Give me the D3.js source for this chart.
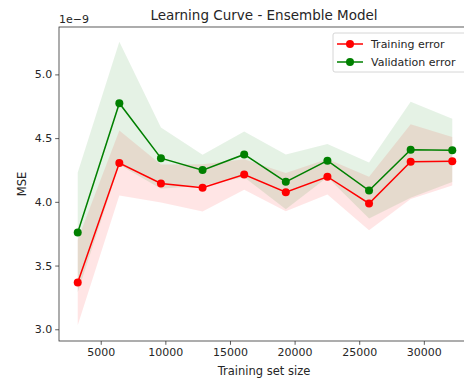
<!DOCTYPE html>
<html>
<head>
<meta charset="utf-8">
<script src="https://cdn.jsdelivr.net/npm/d3@7"></script>
<style>
  body { margin: 0; background: #fff; }
  svg { display: block; font-family: "DejaVu Sans", sans-serif; }
  .tick text { fill: #262626; }
</style>
</head>
<body>
<svg></svg>
<script>
// values in units of 1e-9
const trainSizes = [3220, 6440, 9660, 12880, 16100, 19320, 22540, 25760, 28980, 32200];
const trainMean = [3.367, 4.304, 4.144, 4.110, 4.215, 4.076, 4.197, 3.987, 4.315, 4.318];
const trainStd  = [0.335, 0.255, 0.150, 0.185, 0.120, 0.150, 0.140, 0.210, 0.293, 0.190];
const valMean   = [3.760, 4.774, 4.343, 4.249, 4.372, 4.157, 4.323, 4.089, 4.409, 4.404];
const valStd    = [0.470, 0.483, 0.240, 0.120, 0.180, 0.215, 0.130, 0.220, 0.377, 0.248];
const xTicks = [5000, 10000, 15000, 20000, 25000, 30000];
const yTicks = [3.0, 3.5, 4.0, 4.5, 5.0];

const width = 464;
const height = 380;
const margin = {top: 27, right: -7, bottom: 39, left: 59};

const svg = d3.select('svg')
    .attr('width', width)
    .attr('height', height);

const x = d3.scaleLinear()
    .domain([1771, 33649])
    .range([margin.left, width - margin.right]);
const y = d3.scaleLinear()
    .domain([2.908, 5.372])
    .range([height - margin.bottom, margin.top]);

const rows = trainSizes.map((s, i) => ({
    s,
    tm: trainMean[i], ts: trainStd[i],
    vm: valMean[i], vs: valStd[i]
}));

// bands
const band = (m, sd) => d3.area()
    .x(d => x(d.s))
    .y0(d => y(d[m] - d[sd]))
    .y1(d => y(d[m] + d[sd]));

svg.append('path')
    .datum(rows)
    .attr('d', band('tm', 'ts'))
    .attr('fill', 'red')
    .attr('fill-opacity', 0.1);
svg.append('path')
    .datum(rows)
    .attr('d', band('vm', 'vs'))
    .attr('fill', 'green')
    .attr('fill-opacity', 0.1);

// lines + markers
const series = [
    {key: 'tm', color: 'red', label: 'Training error'},
    {key: 'vm', color: 'green', label: 'Validation error'}
];
series.forEach(s => {
    svg.append('path')
        .datum(rows)
        .attr('d', d3.line().x(d => x(d.s)).y(d => y(d[s.key])))
        .attr('fill', 'none')
        .attr('stroke', s.color)
        .attr('stroke-width', 1.5);
    svg.selectAll(null).data(rows)
        .enter().append('circle')
        .attr('cx', d => x(d.s))
        .attr('cy', d => y(d[s.key]))
        .attr('r', 4)
        .attr('fill', s.color);
});

// axes
const xAxis = svg.append('g')
    .attr('transform', `translate(0,${height - margin.bottom})`)
    .call(d3.axisBottom(x).tickValues(xTicks).tickSize(3.8).tickPadding(3).tickFormat(d3.format('d')));
const yAxis = svg.append('g')
    .attr('transform', `translate(${margin.left},0)`)
    .call(d3.axisLeft(y).tickValues(yTicks).tickSize(3.8).tickPadding(3).tickFormat(d3.format('.1f')));
[xAxis, yAxis].forEach(a => {
    a.selectAll('text').attr('font-size', 11).attr('font-family', '"DejaVu Sans", sans-serif');
    a.select('.domain').remove();
    a.selectAll('line').attr('stroke', '#333').attr('stroke-width', 0.8);
});

// frame
svg.append('rect')
    .attr('x', margin.left)
    .attr('y', margin.top)
    .attr('width', x.range()[1] - margin.left)
    .attr('height', height - margin.bottom - margin.top)
    .attr('fill', 'none')
    .attr('stroke', '#333')
    .attr('stroke-width', 0.8);

// texts
svg.append('text')
    .attr('x', (margin.left + x.range()[1]) / 2 - 1)
    .attr('y', 20)
    .attr('text-anchor', 'middle')
    .attr('font-size', 13.5)
    .attr('fill', '#262626')
    .text('Learning Curve - Ensemble Model');
svg.append('text')
    .attr('x', margin.left)
    .attr('y', 23)
    .attr('font-size', 11)
    .attr('fill', '#262626')
    .text('1e\u22129');
svg.append('text')
    .attr('x', (margin.left + x.range()[1]) / 2 - 1)
    .attr('y', 375)
    .attr('text-anchor', 'middle')
    .attr('font-size', 11.5)
    .attr('fill', '#262626')
    .text('Training set size');
svg.append('text')
    .attr('transform', `translate(26,${(margin.top + height - margin.bottom) / 2}) rotate(-90)`)
    .attr('text-anchor', 'middle')
    .attr('font-size', 11.5)
    .attr('fill', '#262626')
    .text('MSE');

// legend
const lg = svg.append('g').attr('transform', 'translate(333,33)');
lg.append('rect')
    .attr('width', 135).attr('height', 39).attr('rx', 2)
    .attr('fill', 'white').attr('fill-opacity', 0.8)
    .attr('stroke', '#ccc').attr('stroke-width', 0.8);
series.forEach((s, i) => {
    const g = lg.append('g').attr('transform', `translate(0,${11 + i * 18})`);
    g.append('line').attr('x1', 4).attr('x2', 30).attr('stroke', s.color).attr('stroke-width', 1.5);
    g.append('circle').attr('cx', 17).attr('r', 4).attr('fill', s.color);
    g.append('text').attr('x', 38).attr('dy', '0.35em')
        .attr('font-size', 11).attr('fill', '#262626').text(s.label);
});
</script>
</body>
</html>
